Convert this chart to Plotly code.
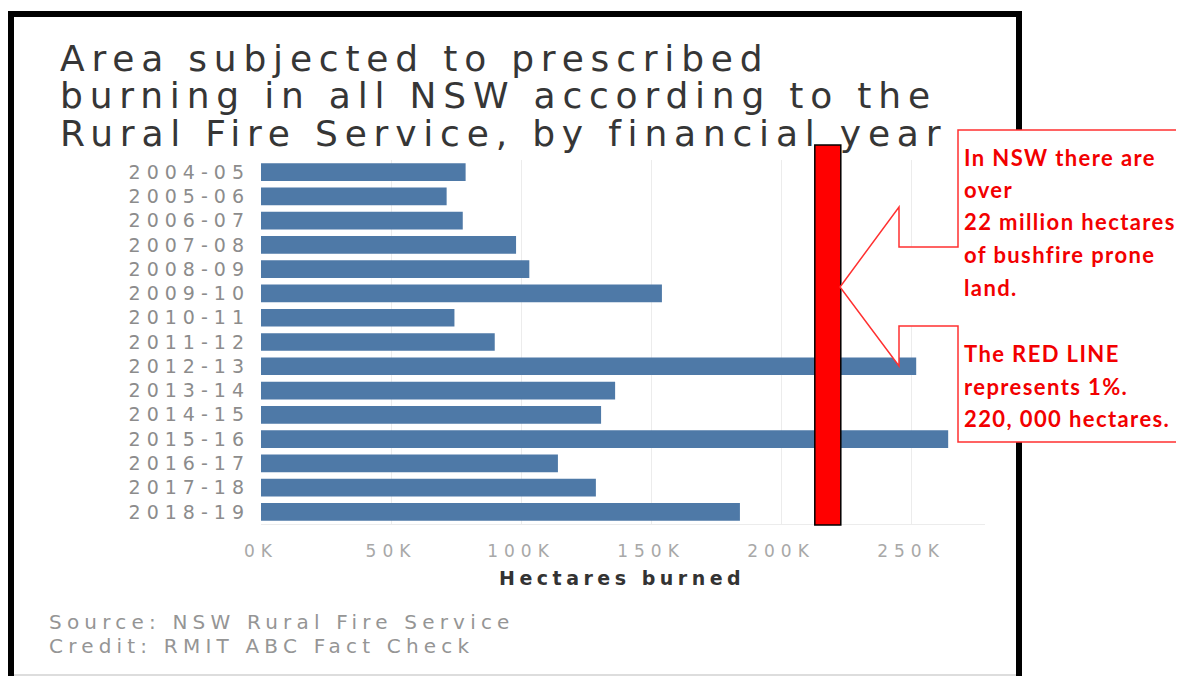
import plotly.graph_objects as go

# ---------------- data ----------------
years = ["2004-05", "2005-06", "2006-07", "2007-08", "2008-09", "2009-10",
         "2010-11", "2011-12", "2012-13", "2013-14", "2014-15", "2015-16",
         "2016-17", "2017-18", "2018-19"]
hectares = [78700, 71400, 77600, 98100, 103200, 154200,
            74400, 89900, 252000, 136200, 130800, 264300,
            114200, 128800, 184200]
tick_vals = [0, 50000, 100000, 150000, 200000, 250000]
tick_text = ["0K", "50K", "100K", "150K", "200K", "250K"]
red_band = [213000, 223000]   # the "1%" red line (220,000 ha)

title_lines = ["Area subjected to prescribed",
               "burning in all NSW according to the",
               "Rural Fire Service, by financial year"]
callout_lines = ["In NSW there are", "over", "22 million hectares",
                 "of bushfire prone", "land.", "The RED LINE",
                 "represents 1%.", "220, 000 hectares."]
footer_lines = ["Source: NSW Rural Fire Service", "Credit: RMIT ABC Fact Check"]

# ---------------- layout geometry (page pixels; body margin is 8px) ----------------
OFF = 8
W, H = 1184, 676
L, R, T, B = 261 - OFF, 985 - OFF, 160 - OFF, 524 - OFF


def px(x):
    return (x - OFF - L) / (R - L)


def py(y):
    return (B - (y - OFF)) / (B - T)


def spaced(text, ls):
    return f'<span style="letter-spacing:{ls}px">{text}</span>'


fig = go.Figure()
fig.add_trace(go.Bar(
    y=years, x=hectares, orientation="h",
    marker=dict(color="#4e79a7", line=dict(width=0)),
    hoverinfo="x+y",
))

fig.update_layout(
    width=W, height=H,
    margin=dict(l=L, r=W - R, t=T, b=H - B, pad=0),
    paper_bgcolor="white", plot_bgcolor="white",
    bargap=0.27, showlegend=False,
    xaxis=dict(range=[0, (R - L) / 2.6 * 1000], tickvals=tick_vals,
               ticktext=[spaced(t, 6) for t in tick_text],
               showgrid=True, gridcolor="#ececec", gridwidth=1, zeroline=False,
               showline=True, linecolor="#ececec", linewidth=1,
               ticks="", ticklabelstandoff=12,
               tickfont=dict(family="DejaVu Sans", size=17, color="#a8a8a8")),
    yaxis=dict(type="category", autorange="reversed", showgrid=False, zeroline=False,
               ticks="", ticklabelstandoff=10,
               tickvals=years, ticktext=[spaced(y, 6) for y in years],
               tickfont=dict(family="DejaVu Sans", size=19, color="#8c8c8c")),
)

shapes = []
# outer frame
shapes.append(dict(type="rect", xref="paper", yref="paper",
                   x0=px(11), x1=px(1019), y0=py(700), y1=py(14),
                   line=dict(color="black", width=6), fillcolor="rgba(0,0,0,0)", layer="above"))
shapes.append(dict(type="line", xref="paper", yref="paper",
                   x0=px(14), x1=px(1016), y0=py(675), y1=py(675),
                   line=dict(color="#bbbbbb", width=1)))
# red band
shapes.append(dict(type="rect", xref="x", yref="paper",
                   x0=red_band[0], x1=red_band[1], y0=py(525), y1=py(145),
                   fillcolor="#ff0000", line=dict(color="black", width=1.5), layer="above"))
# callout with arrow
pts = [(958, 130), (1200, 130), (1200, 442), (958, 442), (958, 326), (899, 326),
       (899, 366), (840, 287), (899, 207), (899, 247), (958, 247)]
path = "M " + " L ".join(f"{px(x):.5f},{py(y):.5f}" for x, y in pts) + " Z"
shapes.append(dict(type="path", xref="paper", yref="paper", path=path,
                   fillcolor="white", line=dict(color="#ff3030", width=1.5), layer="above"))
fig.update_layout(shapes=shapes)

ann = []
for i, t in enumerate(title_lines):
    ann.append(dict(text=spaced(t, 6.8), xref="paper", yref="paper", x=px(58), y=py(58 + i * 37.5),
                    xanchor="left", yanchor="middle", showarrow=False,
                    font=dict(family="DejaVu Sans", size=36, color="#363636")))
ann.append(dict(text=spaced("Hectares burned", 4.5), xref="paper", yref="paper", x=px(622), y=py(578),
                xanchor="center", yanchor="middle", showarrow=False,
                font=dict(family="DejaVu Sans", size=19, color="#333333", weight="bold")))
for i, t in enumerate(footer_lines):
    ann.append(dict(text=spaced(t, 5.2), xref="paper", yref="paper", x=px(47), y=py(622 + i * 24),
                    xanchor="left", yanchor="middle", showarrow=False,
                    font=dict(family="DejaVu Sans", size=20, color="#959595")))
callout_y = [157, 189, 221, 254, 287, 353, 386, 418]
for t, yy in zip(callout_lines, callout_y):
    ann.append(dict(text=spaced(t, 1.4), xref="paper", yref="paper", x=px(962), y=py(yy),
                    xanchor="left", yanchor="middle", showarrow=False,
                    font=dict(family="Lato", size=22, color="#f20000", weight="bold")))
fig.update_layout(annotations=ann)

fig.write_html("out.html")
